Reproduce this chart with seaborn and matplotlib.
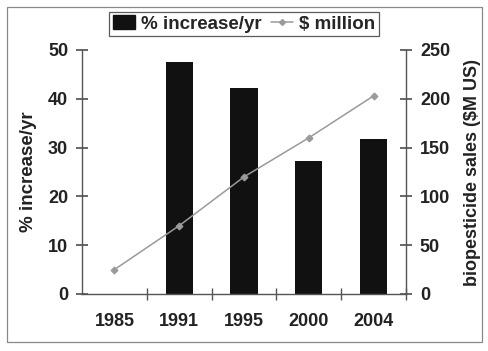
import matplotlib
matplotlib.use("Agg")
import matplotlib.pyplot as plt
from matplotlib.patches import Rectangle, Patch
from matplotlib.lines import Line2D
import seaborn as sns
import pandas as pd

years = ["1985", "1991", "1995", "2000", "2004"]
pct_increase = [0, 47.5, 42.2, 27.3, 31.8]
sales_musd = [25, 70, 120, 160, 203]

sns.set_theme(style="white")
plt.rcParams["font.family"] = ["Liberation Sans", "DejaVu Sans"]
plt.rcParams["font.weight"] = "bold"

df = pd.DataFrame({"year": years, "pct": pct_increase, "sales": sales_musd})

fig = plt.figure(figsize=(4.89, 3.51), dpi=100)
fig.patch.set_facecolor("white")
ax = fig.add_axes([82 / 489, 57 / 351, 324 / 489, 244 / 351])

sns.barplot(data=df, x="year", y="pct", order=years, color="#111111",
            width=0.42, saturation=1, ax=ax, edgecolor="#111111",
            linewidth=0)
ax.set_ylim(0, 50)
ax.set_yticks(range(0, 51, 10))
ax.set_xlabel("")
ax.set_ylabel("% increase/yr", fontsize=13.5, fontweight="bold",
              color="#222222", labelpad=8)

ax2 = ax.twinx()
sns.pointplot(data=df, x="year", y="sales", order=years, color="#9a9a9a",
              markers="D", markersize=3.5, linewidth=1.1, linestyles="-",
              ax=ax2)
ax2.set_ylim(0, 250)
ax2.set_yticks(range(0, 251, 50))
ax2.set_ylabel("biopesticide sales ($M US)", fontsize=13, fontweight="bold",
               color="#222222", labelpad=10)
ax2.set_xlim(-0.5, 4.5)
ax.set_xlim(-0.5, 4.5)

for a in (ax, ax2):
    for s in a.spines.values():
        s.set_visible(False)
ax.spines["left"].set_visible(True)
ax.spines["bottom"].set_visible(True)
ax2.spines["right"].set_visible(True)
for s in (ax.spines["left"], ax.spines["bottom"], ax2.spines["right"]):
    s.set_color("#555555")
    s.set_linewidth(1.0)

# category ticks sit between the bars
ax.set_xticks([0, 1, 2, 3, 4])
ax.set_xticklabels(years)
ax.set_xticks([0.5, 1.5, 2.5, 3.5, 4.5], minor=True)
ax.tick_params(axis="x", which="major", length=0, pad=14, labelsize=13,
               labelcolor="#222222")
ax.tick_params(axis="x", which="minor", direction="inout", length=8,
               color="#555555", bottom=True)
ax.tick_params(axis="y", direction="inout", length=8, color="#555555",
               labelsize=13, labelcolor="#222222", left=True, pad=6)
ax2.tick_params(axis="y", direction="inout", length=8, color="#555555",
                labelsize=13, labelcolor="#222222", right=True, pad=6)
for lbl in ax.get_xticklabels() + ax.get_yticklabels() + ax2.get_yticklabels():
    lbl.set_fontweight("bold")

handles = [Patch(facecolor="#111111", edgecolor="#111111"),
           Line2D([0], [0], color="#9a9a9a", marker="D", markersize=3, lw=1.1)]
leg = fig.legend(handles, ["% increase/yr", "$ million"],
                 loc="center", bbox_to_anchor=(244 / 489, 1 - 24 / 351),
                 ncol=2, frameon=True, fancybox=False,
                 handlelength=1.2, handletextpad=0.3, columnspacing=0.5,
                 borderpad=0.2, prop={"weight": "bold", "size": 13.5})
leg.get_frame().set_edgecolor("#333333")
leg.get_frame().set_linewidth(0.9)

fig.patches.append(Rectangle((7 / 489, 9 / 351), 475 / 489, 335 / 351,
                             transform=fig.transFigure, fill=False,
                             edgecolor="#888888", linewidth=0.9))

fig.savefig("out.png", dpi=100)
